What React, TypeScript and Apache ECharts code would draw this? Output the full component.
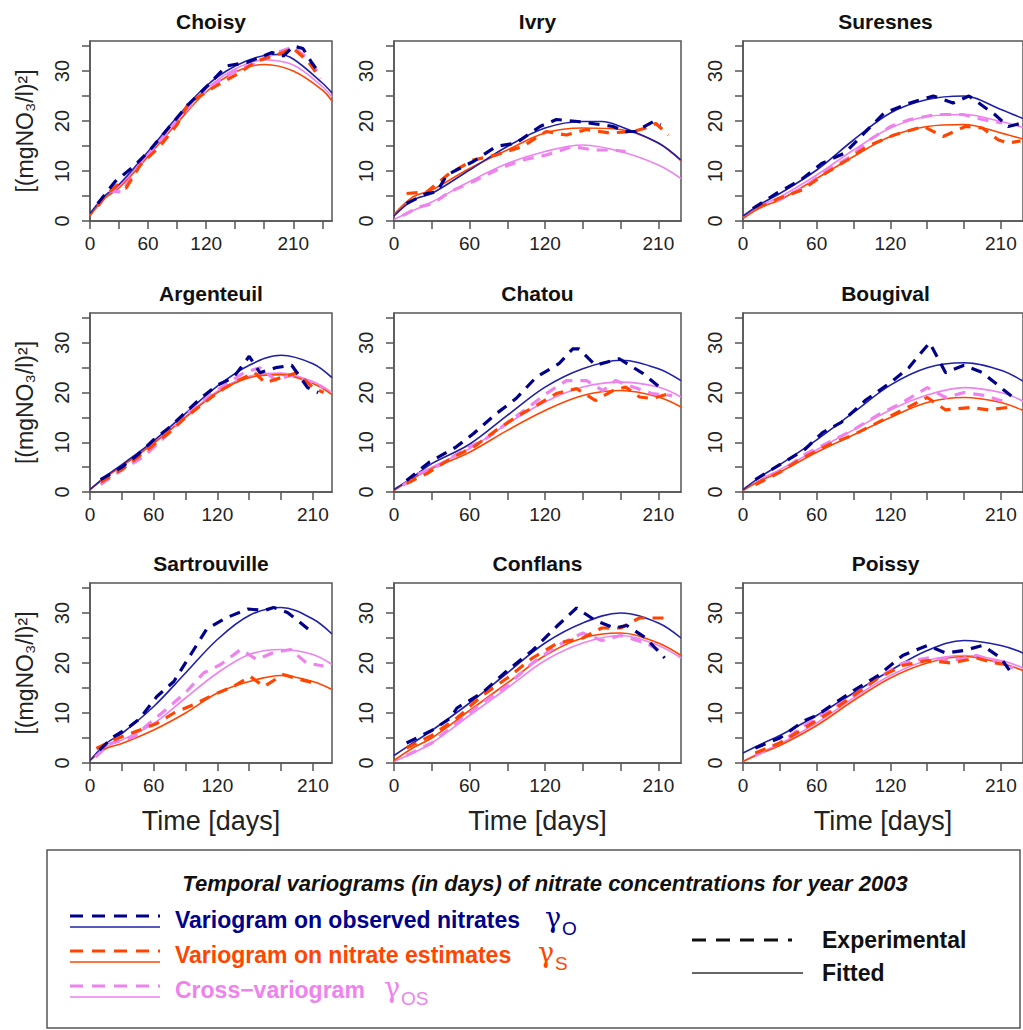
import React, { useEffect, useRef } from "react";
import * as echarts from "echarts";

// ---------- DATA ----------
const panelNames = ["Choisy", "Ivry", "Suresnes", "Argenteuil", "Chatou", "Bougival", "Sartrouville", "Conflans", "Poissy"];
const panelXMax = [250, 228, 228, 228, 228, 228, 228, 228, 228];
const xTickLabels = [0, 60, 120, 210];
const yTickLabels = [0, 10, 20, 30];

// Choisy
const choisyFitO = [[0,1.5],[15,5],[30,7.3],[60,13.9],[90,20.8],[120,27],[150,31],[180,33.1],[195,33.3],[210,32.4],[240,27.6],[250,25.6]];
const choisyFitS = [[0,1],[15,4.5],[30,6.6],[60,12.9],[90,19.6],[120,25.8],[150,29.8],[180,31.3],[210,30],[240,26.2],[250,24]];
const choisyFitOS = [[0,1.2],[15,4.8],[30,7],[60,13.4],[90,20.2],[120,26.4],[150,30.4],[180,32.2],[210,31.2],[240,26.9],[250,24.8]];
const choisyExpO = [[8,3.5],[26,7.9],[45,10.9],[62,14.2],[81,18.6],[100,23],[119,26.6],[141,31],[162,31.7],[188,33.7],[200,33],[210,35],[220,34.5],[229,31.7],[238,29.3]];
const choisyExpS = [[8,3],[17,5.3],[28,7.2],[37,6.5],[52,11.2],[72,14.9],[90,19.3],[102,23.6],[131,27.1],[155,29.7],[172,32],[190,33],[210,34.5],[225,32],[238,28.5]];
const choisyExpOS = [[8,3],[20,6],[33,5.8],[50,11],[68,15],[90,20],[110,24.5],[125,27],[150,30],[170,31.5],[190,33.5],[210,34.8],[225,32.5],[238,29]];

// Ivry
const ivryFitO = [[0,1],[15,4.2],[30,5.5],[60,10.2],[90,14.9],[120,18.6],[150,19.9],[165,19.9],[180,18.9],[210,15.6],[228,12.2]];
const ivryFitS = [[0,1.3],[15,4.8],[30,6.2],[60,10.5],[90,14.2],[120,17.6],[150,18.6],[180,18.3],[210,15.6],[228,12]];
const ivryFitOS = [[0,0.3],[15,2.1],[30,3.8],[60,7.9],[90,11.5],[120,13.9],[150,15.2],[180,13.9],[210,11.2],[228,8.5]];
const ivryExpO = [[10,3.5],[26,5.5],[34,5.8],[42,9.2],[52,10.5],[63,11.9],[81,14.9],[97,15.6],[116,18.9],[129,20.3],[146,19.9],[163,19.3],[174,18.9],[184,17.9],[192,17.9],[206,19.9],[212,19.3]];
const ivryExpS = [[10,5.5],[26,5.8],[44,9.5],[63,12.2],[81,13.2],[102,14.9],[121,17.9],[137,17.2],[153,18.3],[171,17.6],[190,17.9],[200,18.6],[208,19.5],[218,17.2]];
const ivryExpOS = [[7,1.1],[20,2.8],[31,3.5],[44,5.8],[63,7.9],[84,10.5],[102,12.2],[121,13.2],[142,14.9],[158,14.2],[174,14.2],[184,13.9]];

// Suresnes
const suresnesFitO = [[0,1],[15,3.5],[30,5.5],[60,10.2],[90,16.2],[120,21.6],[150,24.3],[180,25],[210,22.3],[228,20.5]];
const suresnesFitS = [[0,0.5],[15,2.8],[30,4.2],[60,8.5],[90,12.9],[120,16.9],[150,18.9],[180,19.3],[210,17.6],[228,16.4]];
const suresnesFitOS = [[0,0.7],[15,3.2],[30,4.8],[60,9.2],[90,14.2],[120,18.6],[150,20.9],[180,21.3],[210,19.9],[228,18.7]];
const suresnesExpO = [[8,2.5],[27,5.5],[47,8.2],[64,11.5],[83,13.6],[100,17.9],[115,21.6],[136,23.6],[155,25],[171,23.6],[184,25],[205,21.3],[216,18.9],[226,19.5]];
const suresnesExpS = [[11,2.5],[29,4.5],[48,6.2],[67,9.5],[85,12.2],[101,14.9],[123,17.2],[147,18.9],[163,16.9],[181,18.9],[195,18.6],[208,16.2],[216,15.6],[226,16]];
const suresnesExpOS = [[11,2.8],[29,4.2],[48,6.5],[69,10.2],[88,12.9],[101,15.9],[120,18.9],[136,20.3],[157,21.3],[179,21.3],[195,20.3],[211,19.6]];

// Argenteuil
const argenteuilFitO = [[0,0.5],[15,3.2],[30,5.5],[60,10.3],[90,15.8],[120,21.3],[150,25.5],[180,27.5],[210,25.8],[228,23]];
const argenteuilFitS = [[0,0.5],[15,3],[30,5.2],[60,9.8],[90,15],[120,20],[150,23],[180,23.6],[210,21.8],[228,19.6]];
const argenteuilFitOS = [[0,0.5],[15,3],[30,5.3],[60,9.9],[90,15.2],[120,20.3],[150,23.3],[180,23.9],[210,22.2],[228,20]];
const argenteuilExpO = [[10,2.5],[30,5],[45,7.5],[60,10.5],[75,13],[90,16],[105,19],[120,21.5],[135,23],[150,27.3],[160,24],[175,25],[190,25.5],[205,21],[215,20]];
const argenteuilExpS = [[10,2],[30,4.5],[45,7],[60,9.5],[75,12],[90,15],[105,17.5],[120,20],[140,22.5],[155,24],[165,22],[180,23],[195,24],[210,21],[220,20]];
const argenteuilExpOS = [[10,1.5],[30,4.5],[50,7],[60,9],[75,12],[90,15.5],[105,18],[120,20.5],[145,24],[160,25],[175,22.5],[190,23.5],[210,22],[220,21]];

// Chatou
const chatouFitO = [[0,0.5],[15,3],[30,5.7],[60,9.6],[90,15.4],[120,21.1],[150,24.8],[180,26.5],[210,24.8],[228,22.4]];
const chatouFitS = [[0,0.3],[15,2.7],[30,4.7],[60,8],[90,12.4],[120,16.4],[150,19.4],[180,20.4],[210,19.1],[228,17.1]];
const chatouFitOS = [[0,0.3],[15,2.8],[30,5],[60,8.7],[90,13.7],[120,18.1],[150,21.1],[180,22.1],[210,21.1],[228,19.1]];
const chatouExpO = [[10,2.3],[28,6],[49,9],[63,11.7],[81,15.7],[97,18.8],[113,23.1],[131,25.8],[142,28.8],[147,28.8],[160,25.5],[179,26.8],[198,23.8],[211,21.1]];
const chatouExpS = [[10,1.7],[26,3.7],[47,7],[63,9],[81,12.4],[97,15.1],[113,17.4],[129,19.8],[145,20.8],[160,18.4],[174,20.4],[184,21.1],[195,19.1],[205,18.8],[219,19.8]];
const chatouExpOS = [[7,1.3],[20,3.7],[36,5.4],[55,8.4],[73,10.7],[89,13.7],[105,16.7],[121,19.8],[137,22.4],[153,22.4],[166,20.4],[176,22.4],[190,21.1],[205,19.8],[221,19.4]];

// Bougival
const bougivalFitO = [[0,0.5],[15,3.2],[30,5.5],[60,10.5],[90,16],[120,21.5],[150,25],[180,26],[210,24.5],[228,22.3]];
const bougivalFitS = [[0,0.3],[15,2.4],[30,4],[60,8],[90,11.5],[120,15],[150,18],[180,19],[210,18],[228,16.4]];
const bougivalFitOS = [[0,0.3],[15,2.6],[30,4.5],[60,8.5],[90,12.5],[120,16.5],[150,19.5],[180,21],[210,20],[228,18.3]];
const bougivalExpO = [[10,2.5],[30,5.5],[50,8.5],[65,12],[80,14],[100,18.5],[120,22],[135,25],[145,28],[152,30],[165,24],[180,25.5],[195,24],[210,21],[220,19]];
const bougivalExpS = [[10,1.5],[30,4],[50,7],[70,9.5],[90,11.5],[110,14],[130,16.5],[150,19],[165,16.5],[185,17],[200,16.5],[215,17]];
const bougivalExpOS = [[10,1.5],[30,4],[50,7.5],[70,10],[90,12.5],[110,15.5],[130,18],[150,21],[165,19],[180,20],[195,19.5],[215,18]];

// Sartrouville
const sartrouvilleFitO = [[0,0.5],[15,3.9],[30,5.9],[60,11.3],[90,18],[120,24.7],[150,29.5],[180,31.1],[210,28.8],[228,25.8]];
const sartrouvilleFitS = [[0,0.5],[15,2.9],[30,3.9],[60,6.6],[90,10],[120,14],[150,16.3],[180,17.5],[210,16.3],[228,14.7]];
const sartrouvilleFitOS = [[0,0.5],[15,3.2],[30,4.6],[60,7.9],[90,13],[120,18],[150,21.7],[180,22.7],[210,21.7],[228,19.7]];
const sartrouvilleExpO = [[9,2.6],[22,5.2],[35,6.9],[47,8.9],[63,13.3],[79,16.3],[94,21.4],[110,26.8],[129,29.1],[149,30.8],[164,30.5],[173,31.1],[186,30.1],[198,28.1],[211,25.8]];
const sartrouvilleExpS = [[6,2.9],[22,4.6],[47,6.6],[63,7.9],[79,10],[97,11.6],[116,13.6],[135,15.3],[151,17.3],[164,15.3],[182,17.7],[198,16.7],[211,16]];
const sartrouvilleExpOS = [[5,1.2],[19,3.9],[41,5.2],[58,8.3],[75,11.3],[91,14.3],[107,18],[123,19.7],[142,22.7],[157,20.7],[173,22.1],[189,22.7],[204,20],[220,19.4]];

// Conflans
const conflansFitO = [[0,1.5],[15,4],[30,6.5],[60,12],[90,18],[120,24],[150,28],[180,30],[210,28],[228,25]];
const conflansFitS = [[0,0.5],[15,3],[30,5],[60,10.5],[90,16],[120,21.5],[150,25],[180,26],[210,24],[228,21.5]];
const conflansFitOS = [[0,0.3],[15,2],[30,4],[60,9.5],[90,15],[120,20.5],[150,24],[180,25.5],[210,23.5],[228,21]];
const conflansExpO = [[10,4],[30,6.5],[45,9],[50,11],[70,14],[90,18.5],[110,22.5],[130,27.5],[145,31],[160,28.5],[175,27],[185,27.5],[200,25],[215,21]];
const conflansExpS = [[10,3],[30,5.5],[50,9],[70,13.5],[90,17],[110,21],[130,24],[150,25],[165,27],[180,27],[195,29],[210,29],[218,29]];
const conflansExpOS = [[10,1.5],[30,4],[50,8],[70,12],[90,15.5],[110,20],[130,23.5],[150,26],[165,24.5],[180,25.5],[200,24],[215,22]];

// Poissy
const poissyFitO = [[0,2],[15,3.8],[30,5.5],[60,9.5],[90,14],[120,18.5],[150,22.5],[180,24.5],[210,23.5],[228,22]];
const poissyFitS = [[0,0.3],[15,2],[30,3.5],[60,7.5],[90,12.5],[120,17],[150,20],[180,21.3],[210,20],[228,18.5]];
const poissyFitOS = [[0,0.3],[15,2.2],[30,3.8],[60,8],[90,13],[120,17.5],[150,20.5],[180,21.5],[210,20.5],[228,19]];
const poissyExpO = [[10,3],[30,5],[50,8.5],[60,9.5],[75,12],[90,14.5],[110,17.5],[130,21.5],[150,23.5],[165,22],[180,22.5],[195,23.5],[210,21],[220,17.5]];
const poissyExpS = [[10,2],[30,4],[50,7],[70,10],[90,13.5],[110,17],[130,19.5],[150,20.5],[170,20],[190,21],[205,20],[220,19.5]];
const poissyExpOS = [[10,1.5],[30,4],[50,7.5],[70,10.5],[90,13.5],[110,17],[130,20],[150,21],[170,20.5],[190,21.5],[210,20],[220,19]];

const fitO = [choisyFitO, ivryFitO, suresnesFitO, argenteuilFitO, chatouFitO, bougivalFitO, sartrouvilleFitO, conflansFitO, poissyFitO];
const fitS = [choisyFitS, ivryFitS, suresnesFitS, argenteuilFitS, chatouFitS, bougivalFitS, sartrouvilleFitS, conflansFitS, poissyFitS];
const fitOS = [choisyFitOS, ivryFitOS, suresnesFitOS, argenteuilFitOS, chatouFitOS, bougivalFitOS, sartrouvilleFitOS, conflansFitOS, poissyFitOS];
const expO = [choisyExpO, ivryExpO, suresnesExpO, argenteuilExpO, chatouExpO, bougivalExpO, sartrouvilleExpO, conflansExpO, poissyExpO];
const expS = [choisyExpS, ivryExpS, suresnesExpS, argenteuilExpS, chatouExpS, bougivalExpS, sartrouvilleExpS, conflansExpS, poissyExpS];
const expOS = [choisyExpOS, ivryExpOS, suresnesExpOS, argenteuilExpOS, chatouExpOS, bougivalExpOS, sartrouvilleExpOS, conflansExpOS, poissyExpOS];

// ---------- LAYOUT / STYLE ----------
const colLeft = [90, 394, 743];
const colWidth = [242, 287, 285];
const rowTop = [41, 313, 583];
const rowHeight = [180, 179, 180];

const FONT = "Liberation Sans";
const AXIS = "#555555";
const BLUE_EXP = "#00008b";
const BLUE_FIT = "#2020a8";
const ORANGE = "#ff4500";
const PINK = "#ee82ee";
const DASH = [11, 8];

export default function App() {
  const ref = useRef<HTMLDivElement>(null);
  useEffect(() => {
    if (!ref.current) return;
    const chart = echarts.init(ref.current, undefined, { renderer: "svg" });

    const grids: any[] = [];
    const xAxes: any[] = [];
    const yAxes: any[] = [];
    const series: any[] = [];
    const graphics: any[] = [];

    for (let i = 0; i < 9; i++) {
      const r = Math.floor(i / 3);
      const c = i % 3;
      grids.push({
        left: colLeft[c], top: rowTop[r], width: colWidth[c], height: rowHeight[r],
        show: true, borderColor: AXIS, borderWidth: 1.5, backgroundColor: "transparent",
        containLabel: false,
      });
      xAxes.push({
        type: "value", gridIndex: i, min: 0, max: panelXMax[i], interval: 30,
        axisLine: { show: true, lineStyle: { color: AXIS, width: 1.5 } },
        axisTick: { show: true, length: 8, inside: false, lineStyle: { color: AXIS, width: 1.5 } },
        splitLine: { show: false },
        axisLabel: {
          show: true, margin: 13, fontSize: 19, color: "#222", fontFamily: FONT,
          showMaxLabel: false,
          formatter: (v: number) => (xTickLabels.includes(v) ? String(v) : ""),
        },
        name: r === 2 ? "Time [days]" : "",
        nameLocation: "middle", nameGap: 44,
        nameTextStyle: { fontSize: 27, color: "#222", fontFamily: FONT },
      });
      yAxes.push({
        type: "value", gridIndex: i, min: 0, max: 36, interval: 5,
        axisLine: { show: true, lineStyle: { color: AXIS, width: 1.5 } },
        axisTick: { show: true, length: 8, inside: false, lineStyle: { color: AXIS, width: 1.5 } },
        splitLine: { show: false },
        axisLabel: {
          show: true, margin: 18, fontSize: 20, color: "#222", rotate: 90, fontFamily: FONT,
          showMaxLabel: false,
          formatter: (v: number) => (yTickLabels.includes(v) ? String(v) : ""),
        },
      });

      const fits = [
        { d: fitOS[i], col: PINK },
        { d: fitS[i], col: ORANGE },
        { d: fitO[i], col: BLUE_FIT },
      ];
      fits.forEach((f, k) => {
        series.push({
          type: "line", xAxisIndex: i, yAxisIndex: i, data: f.d, symbol: "none",
          smooth: 0.35, silent: true, z: 2 + k,
          lineStyle: { color: f.col, width: 1.6, type: "solid" },
        });
      });
      const exps = [
        { d: expOS[i], col: PINK },
        { d: expS[i], col: ORANGE },
        { d: expO[i], col: BLUE_EXP },
      ];
      exps.forEach((f, k) => {
        series.push({
          type: "line", xAxisIndex: i, yAxisIndex: i, data: f.d, symbol: "none",
          smooth: false, silent: true, z: 6 + k,
          lineStyle: { color: f.col, width: 3.2, type: DASH, cap: "butt" },
        });
      });

      // panel title
      graphics.push({
        type: "text", x: colLeft[c] + colWidth[c] / 2, y: rowTop[r] - 20,
        style: {
          text: panelNames[i], fill: "#111", font: `bold 21px "${FONT}"`,
          textAlign: "center", textVerticalAlign: "middle",
        },
      });
      if (c === 0) {
        graphics.push({
          type: "text", x: 25, y: rowTop[r] + rowHeight[r] / 2, rotation: Math.PI / 2,
          style: {
            text: "[(mgNO₃/l)²]", fill: "#222", font: `23px "${FONT}"`,
            textAlign: "center", textVerticalAlign: "middle",
          },
        });
      }
    }

    // ---------- legend box ----------
    const legendTextFont = (w: string) => `${w} 23px "${FONT}"`;
    graphics.push({
      type: "rect", shape: { x: 47, y: 850, width: 973, height: 178 },
      style: { fill: "none", stroke: AXIS, lineWidth: 1.5 },
    });
    graphics.push({
      type: "text", x: 545, y: 883,
      style: {
        text: "Temporal variograms (in days) of nitrate concentrations for year 2003",
        fill: "#111", font: `italic bold 22px "${FONT}"`, textAlign: "center", textVerticalAlign: "middle",
      },
    });
    const rows = [
      { y: 920, exp: BLUE_EXP, fit: BLUE_FIT, textCol: BLUE_EXP, label: "Variogram on observed nitrates", gx: 545, sub: "O" },
      { y: 955, exp: ORANGE, fit: ORANGE, textCol: ORANGE, label: "Variogram on nitrate estimates", gx: 538, sub: "S" },
      { y: 990, exp: PINK, fit: PINK, textCol: PINK, label: "Cross−variogram", gx: 384, sub: "OS" },
    ];
    rows.forEach((rw) => {
      graphics.push({
        type: "line", shape: { x1: 70, y1: rw.y - 4, x2: 160, y2: rw.y - 4 },
        style: { stroke: rw.exp, lineWidth: 3.2, lineDash: [13, 9] },
      });
      graphics.push({
        type: "line", shape: { x1: 70, y1: rw.y + 7, x2: 160, y2: rw.y + 7 },
        style: { stroke: rw.fit, lineWidth: 1.6 },
      });
      graphics.push({
        type: "text", x: 175, y: rw.y,
        style: { text: rw.label, fill: rw.textCol, font: legendTextFont("bold"), textAlign: "left", textVerticalAlign: "middle" },
      });
      graphics.push({
        type: "text", x: rw.gx, y: rw.y - 3,
        style: { text: "γ", fill: rw.textCol, font: `27px "DejaVu Serif"`, textAlign: "left", textVerticalAlign: "middle" },
      });
      graphics.push({
        type: "text", x: rw.gx + 17, y: rw.y + 8,
        style: { text: rw.sub, fill: rw.textCol, font: `19px "${FONT}"`, textAlign: "left", textVerticalAlign: "middle" },
      });
    });
    graphics.push({
      type: "line", shape: { x1: 692, y1: 940, x2: 792, y2: 940 },
      style: { stroke: "#111", lineWidth: 3.2, lineDash: [14, 10] },
    });
    graphics.push({
      type: "text", x: 822, y: 940,
      style: { text: "Experimental", fill: "#111", font: legendTextFont("bold"), textAlign: "left", textVerticalAlign: "middle" },
    });
    graphics.push({
      type: "line", shape: { x1: 692, y1: 973, x2: 803, y2: 973 },
      style: { stroke: "#333", lineWidth: 1.6 },
    });
    graphics.push({
      type: "text", x: 822, y: 973,
      style: { text: "Fitted", fill: "#111", font: legendTextFont("bold"), textAlign: "left", textVerticalAlign: "middle" },
    });

    chart.setOption({
      animation: false,
      backgroundColor: "#ffffff",
      textStyle: { fontFamily: FONT },
      grid: grids,
      xAxis: xAxes,
      yAxis: yAxes,
      series,
      graphic: graphics,
    });
    return () => chart.dispose();
  }, []);

  return (
    <div
      ref={ref}
      style={{ position: "absolute", left: 0, top: 0, width: 1023, height: 1030, background: "#fff" }}
    />
  );
}
